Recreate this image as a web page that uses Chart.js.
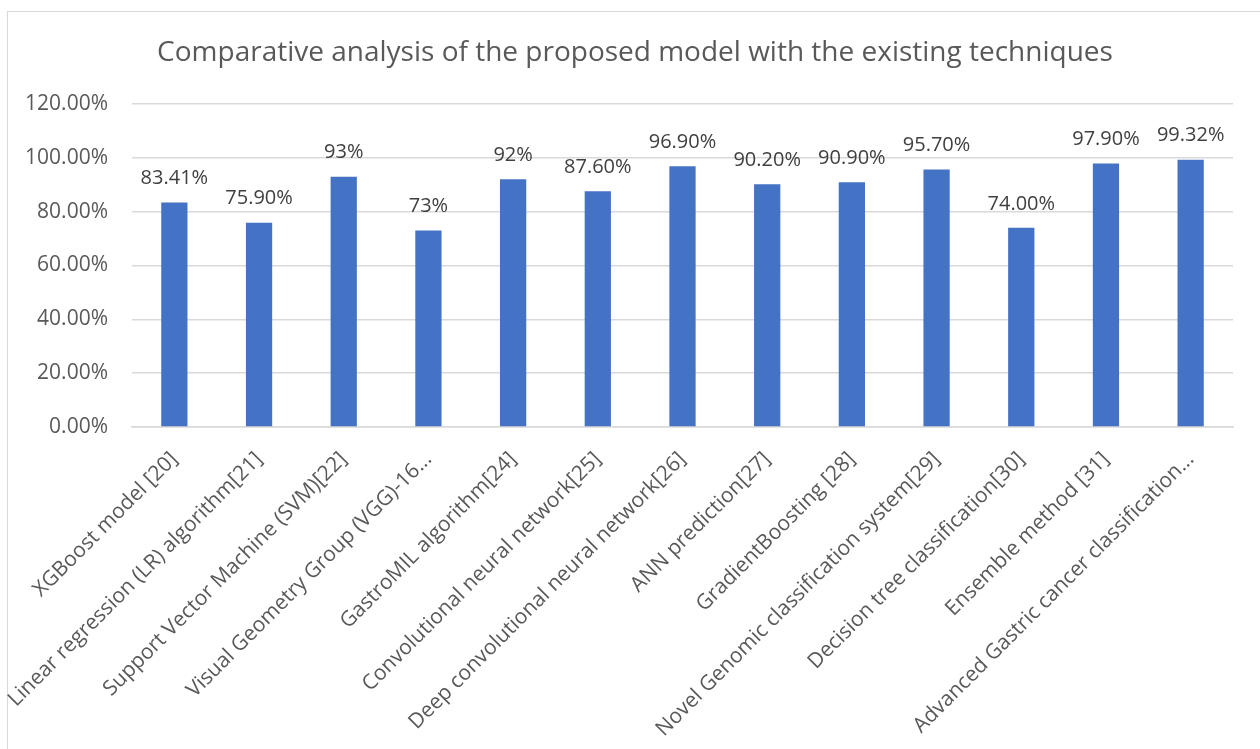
<!DOCTYPE html>
<html>
<head>
<meta charset="utf-8">
<script src="https://cdn.jsdelivr.net/npm/chart.js@4.4.1/dist/chart.umd.min.js"></script>
<style>
  html, body { margin: 0; padding: 0; background: #fff; overflow: hidden; }
  #frame { position: absolute; left: 7px; top: 11px; width: 1300px; height: 800px; border: 1px solid #d9d9d9; }
  #wrap { position: absolute; left: 0; top: 0; width: 1260px; height: 749px; }
</style>
</head>
<body>
<div id="frame"></div>
<div id="wrap"><canvas id="chart"></canvas></div>
<script>
// chart data
const categories = [
  "XGBoost model [20]",
  "Linear regression (LR) algorithm[21]",
  "Support Vector Machine (SVM)[22]",
  "Visual Geometry Group (VGG)-16...",
  "GastroMIL algorithm[24]",
  "Convolutional neural network[25]",
  "Deep convolutional neural network[26]",
  "ANN prediction[27]",
  "GradientBoosting [28]",
  "Novel Genomic classification system[29]",
  "Decision tree classification[30]",
  "Ensemble method [31]",
  "Advanced Gastric cancer classification..."
];
const accuracy = [83.41, 75.9, 93, 73, 92, 87.6, 96.9, 90.2, 90.9, 95.7, 74, 97.9, 99.32];
const valueLabels = ["83.41%", "75.90%", "93%", "73%", "92%", "87.60%", "96.90%", "90.20%", "90.90%", "95.70%", "74.00%", "97.90%", "99.32%"];
const yTicks = [0, 20, 40, 60, 80, 100, 120];
const chartTitle = 'Comparative analysis of the proposed model with the existing techniques';

const FONT = "'Open Sans', sans-serif";
const GREY = "#595959";

// title centred on the whole frame, labels above bars
const extras = {
  id: 'extras',
  afterDraw(chart) {
    const ctx = chart.ctx;
    ctx.save();
    ctx.font = "28px " + FONT;
    ctx.fillStyle = GREY;
    ctx.textAlign = "center";
    ctx.textBaseline = "middle";
    ctx.fillText(chartTitle, 635, 53);
    ctx.restore();
  },
  afterDatasetsDraw(chart) {
    const ctx = chart.ctx;
    const meta = chart.getDatasetMeta(0);
    ctx.save();
    ctx.font = "20px " + FONT;
    ctx.fillStyle = "#404040";
    ctx.textAlign = "center";
    ctx.textBaseline = "middle";
    meta.data.forEach((bar, i) => {
      ctx.fillText(valueLabels[i], bar.x, bar.y - 24);
    });
    ctx.restore();
  }
};

new Chart(document.getElementById('chart'), {
  type: 'bar',
  data: {
    labels: categories,
    datasets: [{
      label: 'Accuracy',
      data: accuracy,
      backgroundColor: '#4472C4',
      barPercentage: 0.31,
      categoryPercentage: 1
    }]
  },
  options: {
    responsive: true,
    maintainAspectRatio: false,
    animation: false,
    layout: { padding: { left: 0, right: 27, top: 104, bottom: 0 } },
    plugins: {
      legend: { display: false },
      tooltip: { enabled: false },
      title: { display: false }
    },
    scales: {
      x: {
        afterFit(scale) { scale.height = 322; },
        grid: { display: false, drawTicks: false },
        border: { display: true, color: '#d9d9d9', width: 1.5 },
        ticks: {
          color: GREY,
          font: { family: FONT, size: 21 },
          minRotation: 45,
          maxRotation: 45,
          autoSkip: false,
          padding: 20
        }
      },
      y: {
        min: 0,
        max: 120,
        afterBuildTicks(scale) { scale.ticks = yTicks.map(v => ({ value: v })); },
        afterFit(scale) { scale.width = 132; },
        grid: { color: '#d9d9d9', lineWidth: 1.5, drawTicks: false },
        border: { display: false },
        ticks: {
          color: GREY,
          font: { family: FONT, size: 21 },
          padding: 24,
          callback: v => v.toFixed(2) + '%'
        }
      }
    }
  },
  plugins: [extras]
});
</script>
</body>
</html>
